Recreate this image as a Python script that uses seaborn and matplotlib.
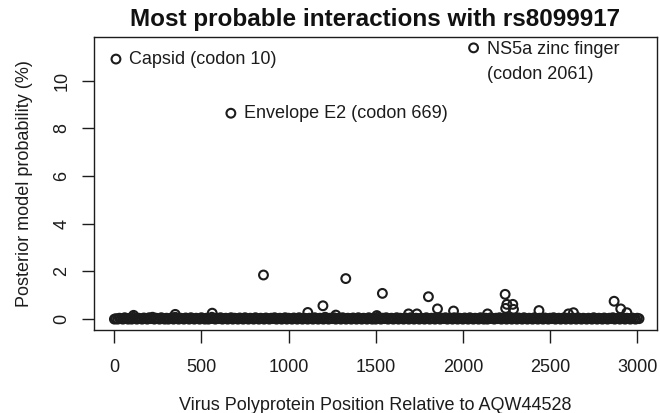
import numpy as np
import pandas as pd
import matplotlib
matplotlib.use('Agg')
import matplotlib.pyplot as plt
import seaborn as sns

# labelled peaks
peak_codon = [10, 669, 2061]
peak_prob = [10.9, 8.63, 11.37]
peak_label = ['Capsid (codon 10)', 'Envelope E2 (codon 669)',
              'NS5a zinc finger\n(codon 2061)']

# smaller peaks above the baseline
bump_codon = [111, 350, 562, 856, 1110, 1197, 1271, 1328, 1506, 1538,
              1688, 1736, 1802, 1854, 1946, 2141, 2242, 2245, 2252, 2286,
              2290, 2436, 2605, 2634, 2867, 2905, 2940]
bump_prob = [0.16, 0.20, 0.25, 1.85, 0.28, 0.56, 0.17, 1.70, 0.15, 1.08,
             0.22, 0.22, 0.94, 0.43, 0.34, 0.22, 1.04, 0.45, 0.62, 0.62,
             0.41, 0.36, 0.22, 0.27, 0.75, 0.43, 0.27]

# near-zero baseline band (sampled along the polyprotein)
base_codon = [1, 10, 20, 30, 40, 50, 60, 70, 80, 90, 100, 110, 120, 130, 140, 150,
              160, 170, 180, 190, 200, 210, 220, 230, 240, 250, 260, 270, 280, 290, 300, 310,
              320, 330, 340, 350, 360, 370, 380, 390, 400, 410, 420, 430, 440, 450, 460, 470,
              480, 490, 500, 510, 520, 530, 540, 550, 560, 570, 580, 590, 600, 610, 620, 630,
              640, 650, 660, 670, 680, 690, 700, 710, 720, 730, 740, 750, 760, 770, 780, 790,
              800, 810, 820, 830, 840, 850, 860, 870, 880, 890, 900, 910, 920, 930, 940, 950,
              960, 970, 980, 990, 1000, 1010, 1020, 1030, 1040, 1050, 1060, 1070, 1080, 1090, 1100, 1110,
              1120, 1130, 1140, 1150, 1160, 1170, 1180, 1190, 1200, 1210, 1220, 1230, 1240, 1250, 1260, 1270,
              1280, 1290, 1300, 1310, 1320, 1330, 1340, 1350, 1360, 1370, 1380, 1390, 1400, 1410, 1420, 1430,
              1440, 1450, 1460, 1470, 1480, 1490, 1500, 1510, 1520, 1530, 1540, 1550, 1560, 1570, 1580, 1590,
              1600, 1610, 1620, 1630, 1640, 1650, 1660, 1670, 1680, 1690, 1700, 1710, 1720, 1730, 1740, 1750,
              1760, 1770, 1780, 1790, 1800, 1810, 1820, 1830, 1840, 1850, 1860, 1870, 1880, 1890, 1900, 1910,
              1920, 1930, 1940, 1950, 1960, 1970, 1980, 1990, 2000, 2010, 2020, 2030, 2040, 2050, 2060, 2070,
              2080, 2090, 2100, 2110, 2120, 2130, 2140, 2150, 2160, 2170, 2180, 2190, 2200, 2210, 2220, 2230,
              2240, 2250, 2260, 2270, 2280, 2290, 2300, 2310, 2320, 2330, 2340, 2350, 2360, 2370, 2380, 2390,
              2400, 2410, 2420, 2430, 2440, 2450, 2460, 2470, 2480, 2490, 2500, 2510, 2520, 2530, 2540, 2550,
              2560, 2570, 2580, 2590, 2600, 2610, 2620, 2630, 2640, 2650, 2660, 2670, 2680, 2690, 2700, 2710,
              2720, 2730, 2740, 2750, 2760, 2770, 2780, 2790, 2800, 2810, 2820, 2830, 2840, 2850, 2860, 2870,
              2880, 2890, 2900, 2910, 2920, 2930, 2940, 2950, 2960, 2970, 2980, 2990, 3000, 3010]
base_prob = [0.00, 0.02, 0.00, 0.04, 0.02, 0.00, 0.06, 0.02, 0.00, 0.04, 0.00, 0.08, 0.02, 0.00, 0.04, 0.02,
             0.00, 0.05, 0.02, 0.00, 0.06, 0.02, 0.08, 0.00, 0.04, 0.02, 0.00, 0.06, 0.02, 0.00, 0.04, 0.00,
             0.02, 0.06, 0.00, 0.08, 0.02, 0.00, 0.04, 0.02, 0.00, 0.05, 0.02, 0.00, 0.06, 0.02, 0.00, 0.04,
             0.02, 0.00, 0.06, 0.02, 0.00, 0.04, 0.00, 0.02, 0.08, 0.02, 0.00, 0.04, 0.02, 0.06, 0.00, 0.02,
             0.04, 0.00, 0.02, 0.06, 0.00, 0.04, 0.02, 0.00, 0.05, 0.02, 0.00, 0.06, 0.02, 0.00, 0.04, 0.02,
             0.00, 0.06, 0.02, 0.00, 0.04, 0.02, 0.00, 0.05, 0.02, 0.00, 0.04, 0.02, 0.06, 0.00, 0.02, 0.04,
             0.00, 0.02, 0.06, 0.00, 0.04, 0.02, 0.00, 0.05, 0.02, 0.00, 0.06, 0.02, 0.00, 0.04, 0.02, 0.00,
             0.04, 0.02, 0.00, 0.06, 0.02, 0.00, 0.04, 0.02, 0.00, 0.08, 0.02, 0.00, 0.04, 0.02, 0.06, 0.00,
             0.02, 0.04, 0.00, 0.06, 0.02, 0.00, 0.04, 0.02, 0.00, 0.05, 0.02, 0.00, 0.06, 0.02, 0.00, 0.04,
             0.02, 0.00, 0.06, 0.02, 0.00, 0.04, 0.00, 0.08, 0.02, 0.00, 0.04, 0.02, 0.06, 0.00, 0.02, 0.04,
             0.00, 0.02, 0.06, 0.00, 0.04, 0.02, 0.00, 0.05, 0.02, 0.00, 0.06, 0.02, 0.00, 0.04, 0.02, 0.00,
             0.04, 0.02, 0.00, 0.06, 0.02, 0.00, 0.04, 0.02, 0.00, 0.05, 0.02, 0.00, 0.04, 0.02, 0.06, 0.00,
             0.02, 0.04, 0.00, 0.06, 0.02, 0.00, 0.04, 0.02, 0.00, 0.05, 0.02, 0.00, 0.06, 0.02, 0.00, 0.04,
             0.02, 0.00, 0.06, 0.02, 0.00, 0.04, 0.00, 0.02, 0.06, 0.02, 0.00, 0.04, 0.02, 0.06, 0.00, 0.02,
             0.04, 0.00, 0.02, 0.06, 0.00, 0.04, 0.02, 0.00, 0.05, 0.02, 0.00, 0.06, 0.02, 0.00, 0.04, 0.02,
             0.00, 0.06, 0.02, 0.00, 0.04, 0.02, 0.00, 0.05, 0.02, 0.00, 0.04, 0.02, 0.06, 0.00, 0.02, 0.04,
             0.00, 0.02, 0.06, 0.00, 0.04, 0.02, 0.00, 0.05, 0.02, 0.00, 0.06, 0.02, 0.00, 0.04, 0.02, 0.00,
             0.04, 0.02, 0.00, 0.06, 0.02, 0.00, 0.04, 0.02, 0.00, 0.05, 0.02, 0.00, 0.04, 0.02, 0.06, 0.00,
             0.02, 0.04, 0.00, 0.06, 0.02, 0.00, 0.04, 0.02, 0.00, 0.05, 0.02, 0.00, 0.04, 0.02]

x_ticks = [0, 500, 1000, 1500, 2000, 2500, 3000]
y_ticks = [0, 2, 4, 6, 8, 10]

df = pd.DataFrame({
    'codon': base_codon + bump_codon + peak_codon,
    'prob': base_prob + bump_prob + peak_prob,
})

sns.set_style('ticks')
plt.rcParams['font.family'] = ['Liberation Sans', 'DejaVu Sans']
ink = '#1c1c1c'

fig = plt.figure(figsize=(6.6, 4.13), dpi=100)
ax = fig.add_axes([94 / 660, 83 / 413, 563 / 660, 293 / 413])

sns.scatterplot(data=df, x='codon', y='prob', ax=ax, marker='o', s=40,
                facecolor='none', edgecolor=ink, linewidth=1.5, zorder=3)

# label the three top hits
for cx, cy, lab in zip(peak_codon, peak_prob, peak_label):
    if '\n' in lab:
        ax.annotate(lab, (cx, cy), xytext=(9.4, 5.0), textcoords='offset points',
                    ha='left', va='top', fontsize=13, color=ink, linespacing=1.6)
    else:
        ax.annotate(lab, (cx, cy), xytext=(9.4, 0), textcoords='offset points',
                    ha='left', va='center', fontsize=13, color=ink)

ax.set_xlim(-116, 3113)
ax.set_ylim(-0.455, 11.825)
ax.set_xticks(x_ticks)
ax.set_yticks(y_ticks)
ax.set_yticklabels([str(v) for v in y_ticks], rotation=90, va='center')

for sp in ax.spines.values():
    sp.set_visible(True)
    sp.set_color(ink)
    sp.set_linewidth(1.0)
ax.tick_params(axis='both', direction='out', length=9, width=1.0, color=ink,
               labelsize=13, labelcolor=ink)
ax.tick_params(axis='x', pad=12)
ax.tick_params(axis='y', pad=8)

ax.set_title('Most probable interactions with rs8099917', fontsize=17.5,
             fontweight='bold', color='#111111', pad=8)
ax.set_xlabel('Virus Polyprotein Position Relative to AQW44528', fontsize=13,
              color=ink, labelpad=15)
ax.set_ylabel('Posterior model probability (%)', fontsize=13, color=ink,
              labelpad=15)

fig.savefig('out.png', dpi=100)
